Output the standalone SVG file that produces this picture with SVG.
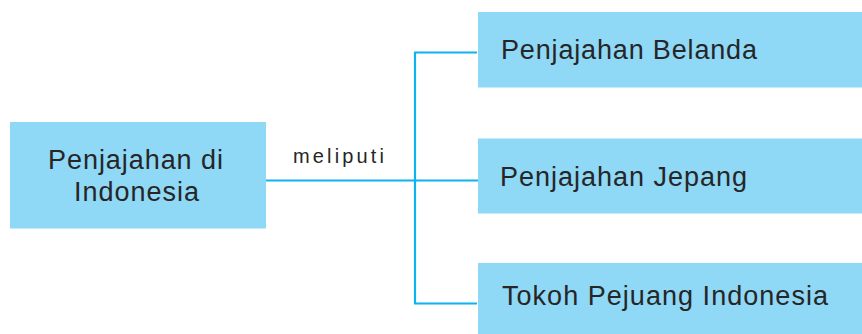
<svg xmlns="http://www.w3.org/2000/svg" width="862" height="334" viewBox="0 0 862 334">
<style>
.box{fill:#8fd8f6;}
.t{font-family:"Liberation Sans",Arial,sans-serif;font-size:27px;fill:#262626;}
.lbl{font-family:"Liberation Sans",Arial,sans-serif;font-size:20px;fill:#262626;}
.c{fill:none;stroke:#0cb4ef;stroke-width:2.2;}
</style>
<rect width="862" height="334" fill="#ffffff"/>
<g id="connectors">
<path class="c" d="M266 180.5H478"/>
<path class="c" d="M477 52.5H415V303.5H477"/>
<text class="lbl" x="293" y="163" textLength="91" lengthAdjust="spacing">meliputi</text>
</g>
<g id="node-root">
<rect class="box" x="10" y="122" width="256" height="106.5"/>
<text class="t" x="48" y="169" textLength="175" lengthAdjust="spacing">Penjajahan di</text>
<text class="t" x="74" y="200.5" textLength="125" lengthAdjust="spacing">Indonesia</text>
</g>
<g id="node-belanda">
<rect class="box" x="478" y="12" width="384" height="75.5"/>
<text class="t" x="501" y="59" textLength="256" lengthAdjust="spacing">Penjajahan Belanda</text>
</g>
<g id="node-jepang">
<rect class="box" x="478" y="138.5" width="384" height="75"/>
<text class="t" x="500" y="186" textLength="247" lengthAdjust="spacing">Penjajahan Jepang</text>
</g>
<g id="node-tokoh">
<rect class="box" x="478" y="263" width="384" height="71"/>
<text class="t" x="502" y="305" textLength="326" lengthAdjust="spacing">Tokoh Pejuang Indonesia</text>
</g>
</svg>
